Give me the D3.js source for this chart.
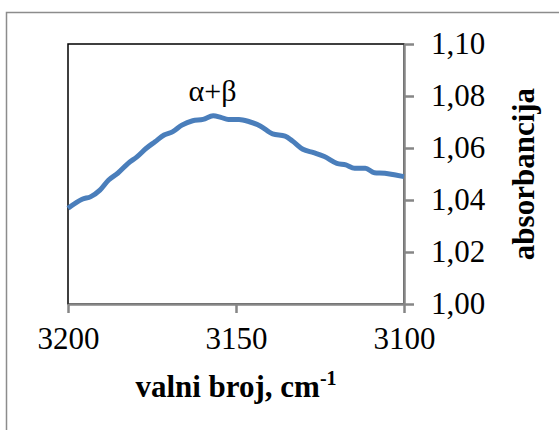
<!DOCTYPE html>
<html>
<head>
<meta charset="utf-8">
<script src="https://cdn.jsdelivr.net/npm/d3@7"></script>
<style>
  body { margin: 0; background: #fff; }
  svg { display: block; }
  svg text { font-family: 'Liberation Serif', 'Times New Roman', 'DejaVu Serif', serif; }
</style>
</head>
<body>
<svg id="chart" width="559" height="430"></svg>
<script>
// spectrum: wavenumber (cm-1) and absorbance
const wavenumber = [3200, 3195.8, 3193.2, 3190.5, 3187.9, 3185.2, 3182.1, 3179.4, 3176.7, 3174.1,
    3171.4, 3168.8, 3166.1, 3162.9, 3159.8, 3156.8, 3154.5, 3152.3, 3149.1, 3146.0,
    3142.8, 3139.1, 3135.4, 3133.2, 3130.1, 3126.9, 3123.7, 3120.0, 3117.3, 3114.7,
    3111.5, 3108.8, 3105.7, 3102.5, 3100];
const absorbance = [1.0368, 1.0403, 1.0413, 1.0438, 1.0477, 1.0503, 1.0541, 1.0567, 1.0599, 1.0624,
    1.0650, 1.0663, 1.0688, 1.0705, 1.0710, 1.0724, 1.0718, 1.0710, 1.0710, 1.0701,
    1.0685, 1.0654, 1.0646, 1.0627, 1.0595, 1.0582, 1.0567, 1.0541, 1.0535, 1.0522,
    1.0522, 1.0505, 1.0503, 1.0496, 1.0490];

const xTicks = [3200, 3150, 3100];
const yTicks = [1.00, 1.02, 1.04, 1.06, 1.08, 1.10];

const svg = d3.select("svg#chart");
const margin = {left: 68, top: 44, right: 404, bottom: 304};
const axisColor = "#868686";

// outer chart frame (runs off the page on right/bottom)
svg.append("rect")
    .attr("x", 6.5)
    .attr("y", 12.5)
    .attr("width", 600)
    .attr("height", 500)
    .attr("fill", "none")
    .attr("stroke", "#8c8c8c")
    .attr("stroke-width", 1.5);

const x = d3.scaleLinear().domain([3200, 3100]).range([margin.left, margin.right]);
const y = d3.scaleLinear().domain([1.00, 1.10]).range([margin.bottom, margin.top]);

// plot area border (black left/top)
svg.append("rect")
    .attr("x", margin.left)
    .attr("y", margin.top)
    .attr("width", margin.right - margin.left)
    .attr("height", margin.bottom - margin.top)
    .attr("fill", "none")
    .attr("stroke", "#000")
    .attr("stroke-width", 1.5);

// x axis
const xAxis = svg.append("g")
    .attr("transform", `translate(0, ${margin.bottom})`)
    .call(d3.axisBottom(x).tickValues(xTicks).tickSize(9).tickSizeOuter(0).tickPadding(14)
        .tickFormat(d3.format("d")));

// y axis on the right
const yAxis = svg.append("g")
    .attr("transform", `translate(${margin.right}, 0)`)
    .call(d3.axisRight(y).tickValues(yTicks).tickSize(10).tickSizeOuter(0).tickPadding(17)
        .tickFormat(d => d3.format(".2f")(d).replace(".", ",")));

[xAxis, yAxis].forEach(g => {
    g.attr("font-family", null);
    g.select(".domain").attr("stroke", axisColor).attr("stroke-width", 2.5);
    g.selectAll(".tick line").attr("stroke", axisColor).attr("stroke-width", 2.5);
    g.selectAll(".tick text")
        .attr("fill", "#000")
        .attr("font-size", 31);
});
xAxis.selectAll(".tick text").attr("dy", "0.71em");

// spectrum line
const points = wavenumber.map((w, i) => [w, absorbance[i]]);
const line = d3.line()
    .x(d => x(d[0]))
    .y(d => y(d[1]))
    .curve(d3.curveMonotoneX);

svg.append("path")
    .datum(points)
    .attr("d", line)
    .attr("fill", "none")
    .attr("stroke", "#4a7ebb")
    .attr("stroke-width", 5)
    .attr("stroke-linecap", "butt")
    .attr("stroke-linejoin", "round");

// band annotation
svg.append("text")
    .attr("x", 212.5)
    .attr("y", 101)
    .attr("text-anchor", "middle")
    .attr("font-size", 30)
    .text("α+β");

// axis titles
const xTitle = svg.append("text")
    .attr("x", (margin.left + margin.right) / 2)
    .attr("y", 397)
    .attr("text-anchor", "middle")
    .attr("font-size", 31)
    .attr("font-weight", "bold");
xTitle.append("tspan").text("valni broj, cm");
xTitle.append("tspan").attr("dy", -12).attr("font-size", 20).text("-1");

svg.append("text")
    .attr("transform", `translate(534, ${(margin.top + margin.bottom) / 2}) rotate(-90)`)
    .attr("text-anchor", "middle")
    .attr("font-size", 31)
    .attr("font-weight", "bold")
    .text("absorbancija");
</script>
</body>
</html>
